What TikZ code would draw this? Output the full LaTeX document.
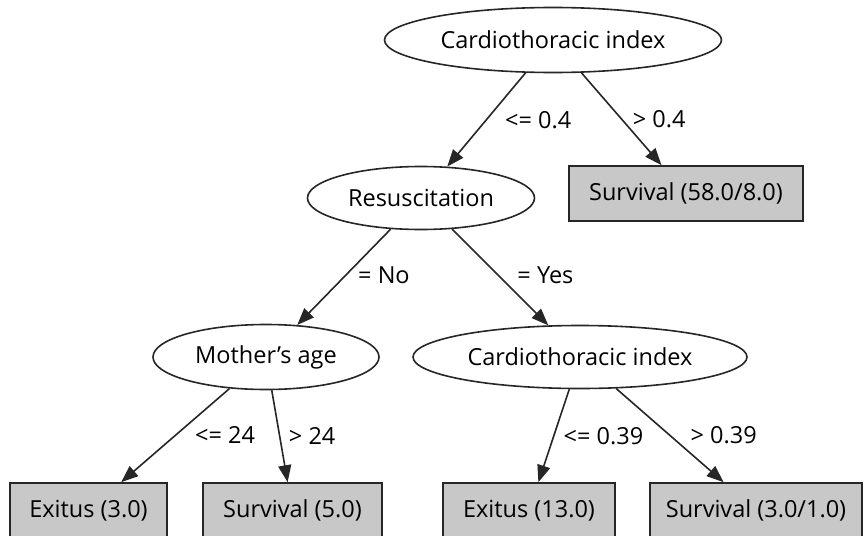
\documentclass[tikz,border=0pt]{standalone}
\usepackage{fontspec}
\setmainfont{Open Sans}
\usetikzlibrary{arrows.meta,shapes.geometric}
\definecolor{leafgray}{RGB}{200,200,200}
\newcommand{\treefont}{\fontsize{23.5}{27}\selectfont}
\tikzset{
  test/.style={ellipse, draw=black!85, line width=1.6pt, fill=white, inner sep=0pt, font=\treefont},
  leaf/.style={rectangle, draw=black!85, line width=1.6pt, fill=leafgray, minimum height=55pt, inner sep=0pt, font=\treefont},
  branch/.style={draw=black!85, line width=1.6pt, -{Triangle[length=17pt,width=13pt]}},
  cond/.style={midway, anchor=west, inner sep=0pt, font=\treefont}
}

\begin{document}
\begin{tikzpicture}[x=1pt,y=-1pt]
    \useasboundingbox (0,0) rectangle (866,535);

    % tests
    \node[test, minimum width=337pt, minimum height=65pt] (ctiA) at (553,40) {Cardiothoracic index};
    \node[test, minimum width=227pt, minimum height=63pt] (resus) at (421,198) {Resuscitation};
    \node[test, minimum width=226pt, minimum height=65pt] (mage) at (266,357) {Mother’s age};
    \node[test, minimum width=334pt, minimum height=63pt] (ctiB) at (580,357) {Cardiothoracic index};

    % leaves
    \node[leaf, minimum width=234pt] (survA) at (686,193.5) {Survival (58.0/8.0)};
    \node[leaf, minimum width=157pt] (exitA) at (88.5,510.5) {Exitus (3.0)};
    \node[leaf, minimum width=179pt] (survB) at (292.5,510.5) {Survival (5.0)};
    \node[leaf, minimum width=172pt] (exitB) at (529,510.5) {Exitus (13.0)};
    \node[leaf, minimum width=212pt] (survC) at (756,510.5) {Survival (3.0/1.0)};

    % branches
    \draw[branch] (ctiA) -- node[cond, xshift=18pt] {<= 0.4} (resus);
    \draw[branch] (ctiA) -- node[cond, xshift=10.5pt] {> 0.4} (survA);
    \draw[branch] (resus) -- node[cond, xshift=13.5pt, yshift=2pt] {= No} (mage);
    \draw[branch] (resus) -- node[cond, xshift=16.5pt, yshift=2pt] {= Yes} (ctiB);
    \draw[branch] (mage) -- node[cond, xshift=19pt] {<= 24} (exitA);
    \draw[branch] (mage) -- node[cond, xshift=8.5pt] {> 24} (survB);
    \draw[branch] (ctiB) -- node[cond, xshift=9pt] {<= 0.39} (exitB);
    \draw[branch] (ctiB) -- node[cond, xshift=20pt] {> 0.39} (survC);
\end{tikzpicture}
\end{document}
